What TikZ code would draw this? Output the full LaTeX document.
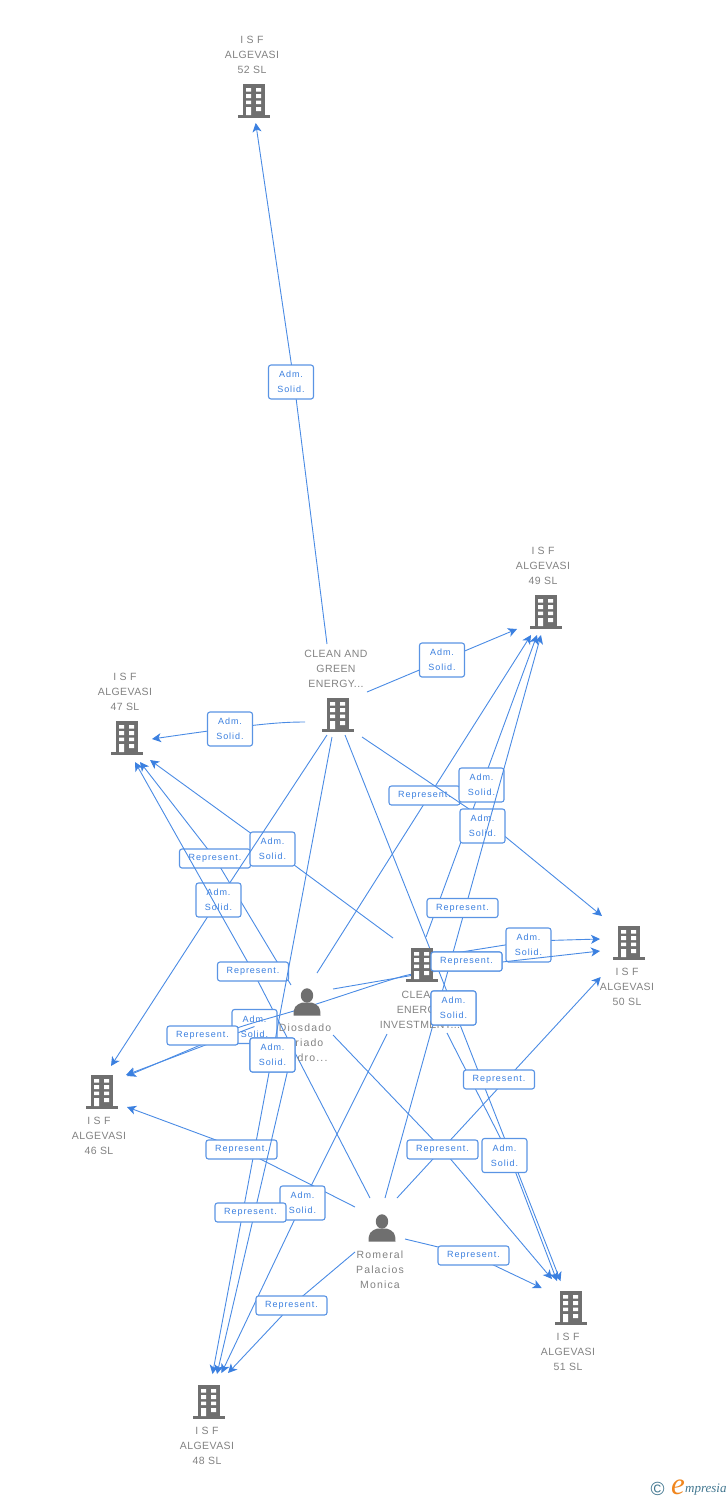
\documentclass[tikz,border=0pt]{standalone}
\usepackage{fontspec}
\setmainfont{Liberation Sans}
\newfontfamily\entfont[LetterSpace=4]{Liberation Sans}
\newfontfamily\entwide[LetterSpace=11]{Liberation Sans}
\newfontfamily\labfont[LetterSpace=11]{Liberation Sans}
\newfontfamily\logofont{Liberation Serif}
\usetikzlibrary{arrows.meta}
\definecolor{linkblue}{HTML}{4A8BE4}
\definecolor{tipblue}{HTML}{3B80E0}
\definecolor{boxedge}{HTML}{5A94E4}
\definecolor{labblue}{HTML}{3A7FDF}
\definecolor{entgray}{HTML}{828282}
\definecolor{icongray}{HTML}{6F6F6F}
\definecolor{logoteal}{HTML}{41768F}
\definecolor{logoorange}{HTML}{F0861E}
\newcommand{\admtext}{\raisebox{-1pt}{Adm.}\\\raisebox{-1pt}{Solid.}}
\newcommand{\reptext}{\raisebox{-1pt}{Represent.}}
\tikzset{
  conn/.style={draw=linkblue,line width=0.9pt,line join=round,-{Stealth[length=9pt,width=9pt,inset=2.5pt,color=tipblue]}},
  tagbox/.style={draw=boxedge,line width=1.1pt,fill=white,rounded corners=2.5pt,inner sep=0pt,
    text=labblue,align=center,font=\labfont\fontsize{9}{15}\selectfont},
  admbox/.style={tagbox,minimum width=45pt,minimum height=34pt},
  repbox/.style={tagbox,minimum width=71pt,minimum height=19pt},
  enttext/.style={text=entgray,align=center,inner sep=0pt,font=\entfont\fontsize{10.5}{15}\selectfont},
  persontext/.style={enttext,font=\entwide\fontsize{10.5}{15}\selectfont},
  iconspot/.style={inner sep=0pt,minimum width=32pt,minimum height=34pt},
  pics/building/.style={code={
    \fill[icongray] (-11,-17) rectangle (11,14);
    \fill[icongray] (-16,14) rectangle (16,17);
    \fill[white] (-8,-13) rectangle (-3,-9.5) (2,-13) rectangle (7,-9.5)
                 (-8,-7) rectangle (-3,-3) (2,-7) rectangle (7,-3)
                 (-8,-0.5) rectangle (-3,3) (2,-0.5) rectangle (7,3)
                 (-8,6) rectangle (-3,14) (2,6) rectangle (7,10);
  }},
  pics/person/.style={code={
    \fill[icongray] (0,-6.5) ellipse (6.2 and 7.2);
    \fill[icongray] (-13.5,13.5) .. controls (-13.5,5.5) and (-12,3) .. (-4.5,0.5)
      -- (4.5,0.5) .. controls (12,3) and (13.5,5.5) .. (13.5,13.5) -- cycle;
  }}
}
\begin{document}
\begin{tikzpicture}[x=1pt,y=-1pt]
\useasboundingbox (0,0) rectangle (728,1500);

% entities
\node[iconspot] (n52) at (254,101) {};
\node[iconspot] (n49) at (546,612) {};
\node[iconspot] (n47) at (127,738) {};
\node[iconspot] (green) at (338,715) {};
\node[iconspot] (n50) at (629,943) {};
\node[iconspot] (cei) at (422,965) {};
\node[iconspot] (dio) at (307,1002) {};
\node[iconspot] (n46) at (102,1092) {};
\node[iconspot] (rom) at (382,1228) {};
\node[iconspot] (n51) at (571,1308) {};
\node[iconspot] (n48) at (209,1402) {};

% connector ends
\coordinate (g52) at (327,644);   \coordinate (t52) at (255.7,123);
\coordinate (g49) at (367,692);   \coordinate (t49a) at (517,629);
\coordinate (g47) at (305,722);   \coordinate (t47a) at (152,739);
\coordinate (g50) at (362,737);   \coordinate (t50a) at (602,916);
\coordinate (g46) at (327,735);   \coordinate (t46a) at (111,1066);
\coordinate (g48) at (332,737);   \coordinate (t48a) at (212.5,1374);
\coordinate (g51) at (345,735);   \coordinate (t51c) at (560.5,1281);
\coordinate (c47) at (393,938);   \coordinate (t47b) at (150,760);
\coordinate (c49) at (426,937);   \coordinate (t49b) at (537,635);
\coordinate (c50) at (430,957);   \coordinate (t50b) at (600,939);
\coordinate (c51) at (447,1033);  \coordinate (t51d) at (557,1281);
\coordinate (c48) at (387,1034);  \coordinate (t48c) at (221.5,1373);
\coordinate (c46) at (430,972);   \coordinate (t46c) at (127,1076);
\coordinate (d49) at (317,973);   \coordinate (t49c) at (531,635);
\coordinate (d47) at (291,985);   \coordinate (t47c) at (140,762);
\coordinate (d50) at (333,989);   \coordinate (t50c) at (600,951);
\coordinate (d51) at (333,1035);  \coordinate (t51b) at (552,1279);
\coordinate (d48) at (288.5,1067);  \coordinate (t48b) at (217,1374);
\coordinate (t46b) at (126,1075);
\coordinate (r47) at (370,1198);  \coordinate (t47d) at (135,762);
\coordinate (r49) at (385,1198);  \coordinate (t49d) at (541,635);
\coordinate (r50) at (397,1198);  \coordinate (t50d) at (600.7,977);
\coordinate (r46) at (355,1207);  \coordinate (t46d) at (127,1107);
\coordinate (r51) at (405,1239);  \coordinate (t51a) at (541.7,1288);
\coordinate (r48) at (355,1252);  \coordinate (t48d) at (228,1373);

% lines and tags, in stacking order
\draw[conn] (g52) -- (294,382) -- (t52);
\node[admbox] (a52) at (291,382) {\admtext};
\draw[conn] (g49) -- (t49a);
\node[admbox] (a49) at (442,660) {\admtext};
\draw[conn] (g47) .. controls (280,722) and (255,724) .. (t47a);
\node[admbox] (a47) at (230,729) {\admtext};

\draw[conn] (d49) -- (t49c);
\node[repbox] (rd49) at (424.5,795.5) {\reptext};
\draw[conn] (c49) -- (t49b);
\node[admbox] (ac49) at (481.5,785) {\admtext};
\draw[conn] (g50) -- (482.5,818) -- (t50a);
\node[admbox] (ag50) at (482.5,826) {\admtext};
\draw[conn] (r49) -- (t49d);
\node[repbox] (rr49) at (462.5,908) {\reptext};

\draw[conn] (d47) -- (215,858.5) -- (t47c);
\node[repbox] (rd47) at (215,858.5) {\reptext};
\draw[conn] (c47) -- (272.5,849) -- (t47b);
\node[admbox] (ac47) at (272.5,849) {\admtext};
\draw[conn] (g46) -- (218.5,900) -- (t46a);
\node[admbox] (ag46) at (218.5,900) {\admtext};
\draw[conn] (r47) -- (253,971.5) -- (t47d);
\node[repbox] (rr47) at (253,971.5) {\reptext};

\node[admbox] (ac46) at (254.5,1026.5) {\admtext};
\draw[conn] (ac46.center) -- (t46b);
\draw[conn] plot[smooth,tension=0.55] coordinates {(c46) (400,977) (307,1007) (237,1028) (205,1043) (t46c)};
\node[repbox] (rc46) at (202.5,1035.5) {\reptext};
\draw[conn] (g48) -- (t48a);
\node[admbox] (ag48) at (272.5,1055) {\admtext};

\draw[conn] (c50) -- (530,941) -- (t50b);
\node[admbox] (ac50) at (528.5,945) {\admtext};
\draw[conn] (d50) -- (466.5,966) -- (t50c);
\node[repbox] (rd50) at (466.5,961.5) {\reptext};

\draw[conn] (g51) -- (453.5,1008) -- (t51c);
\node[admbox] (ag51) at (453.5,1008) {\admtext};
\draw[conn] (c51) -- (509,1155) -- (t51d);
\node[admbox] (ac51) at (504.5,1155.5) {\admtext};
\draw[conn] (r50) -- (t50d);
\node[repbox] (rr50) at (499,1079.5) {\reptext};
\draw[conn] (d51) -- (442.5,1149.5) -- (t51b);
\node[repbox] (rd51) at (442.5,1149.5) {\reptext};
\draw[conn] (r46) -- (241.5,1149.5) -- (t46d);
\node[repbox] (rr46) at (241.5,1149.5) {\reptext};
\draw[conn] (c48) -- (302.5,1203) -- (t48c);
\node[admbox] (ac48) at (302.5,1203) {\admtext};
\draw[conn] (d48) -- (t48b);
\node[repbox] (rd48) at (250.5,1212.5) {\reptext};
\draw[conn] (r48) -- (291.5,1305.5) -- (t48d);
\node[repbox] (rr48) at (291.5,1305.5) {\reptext};
\draw[conn] (r51) -- (473.5,1255.5) -- (t51a);
\node[repbox] (rr51) at (473.5,1255.5) {\reptext};

% icons and names
\pic at (n52) {building};
\pic at (n49) {building};
\pic at (n47) {building};
\pic at (green) {building};
\pic at (n50) {building};
\pic at (cei) {building};
\pic at (n46) {building};
\pic at (n51) {building};
\pic at (n48) {building};
\pic at (dio) {person};
\pic at (rom) {person};
\node[enttext] (t52n) at (252,55) {I S F\\ALGEVASI\\52 SL};
\node[enttext] (t49n) at (543,566) {I S F\\ALGEVASI\\49 SL};
\node[enttext] (t47n) at (125,692) {I S F\\ALGEVASI\\47 SL};
\node[enttext] (tgn) at (336,669) {CLEAN AND\\GREEN\\ENERGY...};
\node[enttext] (t50n) at (627,987) {I S F\\ALGEVASI\\50 SL};
\node[enttext] (tcn) at (420,1010) {CLEAN\\ENERGY\\INVESTMENT...};
\node[persontext] (tdn) at (305,1043) {Diosdado\\Criado\\Pedro...};
\node[enttext] (t46n) at (99,1136) {I S F\\ALGEVASI\\46 SL};
\node[persontext] (trn) at (380,1270) {Romeral\\Palacios\\Monica};
\node[enttext] (t51n) at (568,1352) {I S F\\ALGEVASI\\51 SL};
\node[enttext] (t48n) at (207,1446) {I S F\\ALGEVASI\\48 SL};

% tags that sit over names and icons
\node[repbox] at (rd50) {\reptext};
\node[admbox] at (ag51) {\admtext};
\node[admbox] at (ag48) {\admtext};

% logo
\node[text=logoteal,inner sep=0pt,font=\fontsize{19}{19}\selectfont] (logoc) at (657.5,1489) {©};
\node[text=logoorange,inner sep=0pt,font=\logofont\itshape\fontsize{31}{31}\selectfont] (logoe) at (678,1487) {e};
\node[text=logoteal,inner sep=0pt,anchor=west,font=\logofont\itshape\fontsize{13}{13}\selectfont] (logot) at (685,1490) {mpresia};
\end{tikzpicture}
\end{document}
